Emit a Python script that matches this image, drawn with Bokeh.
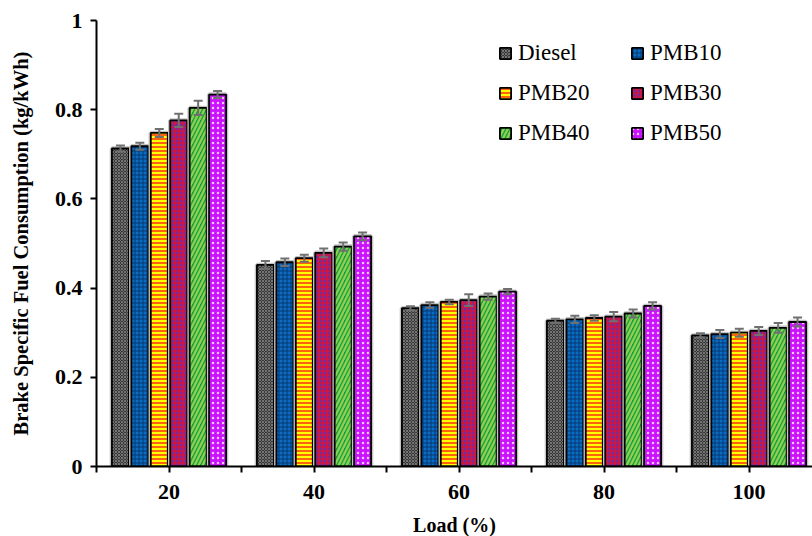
from bokeh.plotting import figure
from bokeh.models import (ColumnDataSource, Range1d, FixedTicker, CustomJSTickFormatter,
                          Whisker, TeeHead, Legend, LegendItem)
from bokeh.embed import file_html
from bokeh.resources import INLINE

# ---------------- data ----------------
loads = ["20", "40", "60", "80", "100"]
series_names = ["Diesel", "PMB10", "PMB20", "PMB30", "PMB40", "PMB50"]

diesel = [0.713, 0.452, 0.355, 0.327, 0.294]
pmb10 = [0.718, 0.458, 0.362, 0.330, 0.297]
pmb20 = [0.748, 0.467, 0.369, 0.333, 0.300]
pmb30 = [0.776, 0.479, 0.373, 0.336, 0.304]
pmb40 = [0.804, 0.493, 0.381, 0.343, 0.311]
pmb50 = [0.834, 0.516, 0.392, 0.360, 0.324]

diesel_err = [0.007, 0.0085, 0.0045, 0.0045, 0.0045]
pmb10_err = [0.008, 0.0085, 0.006, 0.008, 0.009]
pmb20_err = [0.009, 0.008, 0.005, 0.006, 0.009]
pmb30_err = [0.015, 0.010, 0.013, 0.0105, 0.009]
pmb40_err = [0.016, 0.009, 0.007, 0.009, 0.011]
pmb50_err = [0.008, 0.0085, 0.006, 0.008, 0.010]

values = [diesel, pmb10, pmb20, pmb30, pmb40, pmb50]
errors = [diesel_err, pmb10_err, pmb20_err, pmb30_err, pmb40_err, pmb50_err]

# ---------------- styles ----------------
styles = [
    dict(fill_color="#363636", hatch_pattern="diagonal_cross", hatch_color="#747474", hatch_scale=3, hatch_weight=1),
    dict(fill_color="#0a6cc4", hatch_pattern="cross", hatch_color="#06386e", hatch_scale=4, hatch_weight=1),
    dict(fill_color="#ffff00", hatch_pattern="horizontal_line", hatch_color="#ff3010", hatch_scale=4, hatch_weight=1.5),
    dict(fill_color="#7a2a96", hatch_pattern="cross", hatch_color="#e8102a", hatch_scale=4, hatch_weight=1.2),
    dict(fill_color="#14a040", hatch_pattern="right_diagonal_line", hatch_color="#8fd050", hatch_scale=8, hatch_weight=2.3),
    dict(fill_color="#cc11ff", hatch_pattern="dot", hatch_color="#f4c8ff", hatch_scale=5, hatch_weight=1),
]

FONT = "Liberation Serif"
bar_w = 0.117
pitch = 0.134

p = figure(frame_width=716, frame_height=446, width=812, height=536,
           output_backend="svg", toolbar_location=None,
           x_range=Range1d(0.5, 0.5 + 716 / 145), y_range=Range1d(0, 1),
           min_border_left=96, min_border_right=0, min_border_top=20, min_border_bottom=70)
p.outline_line_color = None
p.xgrid.grid_line_color = None
p.ygrid.grid_line_color = None
p.background_fill_color = "white"
p.border_fill_color = "white"

renderers = {}
for i, (name, vals, errs, st) in enumerate(zip(series_names, values, errors, styles)):
    xs = [g + 1 + (i - 2.5) * pitch for g in range(len(loads))]
    src = ColumnDataSource(dict(x=xs, top=vals,
                                upper=[v + e for v, e in zip(vals, errs)],
                                lower=[v - e for v, e in zip(vals, errs)]))
    # soft gray halo
    p.vbar(x="x", top="top", bottom=0, width=bar_w, source=src,
           fill_color=None, line_color="#c4c4c4", line_width=4.5)
    r = p.vbar(x="x", top="top", bottom=0, width=bar_w, source=src,
               line_color="black", line_width=1.8, **st)
    renderers[name] = r
    w = Whisker(source=src, base="x", upper="upper", lower="lower",
                line_color="#707070", line_width=2, level="annotation",
                upper_head=TeeHead(size=9, line_color="#707070", line_width=2),
                lower_head=TeeHead(size=9, line_color="#707070", line_width=2))
    p.add_layout(w)

# legend laid out column by column -> row-major reading order in the picture
legend_order = ["Diesel", "PMB20", "PMB40", "PMB10", "PMB30", "PMB50"]
items = [LegendItem(label=n, renderers=[renderers[n]]) for n in legend_order]
legend = Legend(items=items, ncols=2, location=(402, 320),
                label_text_font=FONT, label_text_font_size="23px", label_text_color="black",
                glyph_width=14, glyph_height=14, label_height=26, label_standoff=6,
                spacing=14, label_width=98, padding=0, margin=0,
                border_line_color=None, background_fill_alpha=0)
p.add_layout(legend, "center")

# axes
tick_pos = [0.5 + 0.5 * k for k in range(11)]
p.xaxis.ticker = FixedTicker(ticks=tick_pos)
p.xaxis.formatter = CustomJSTickFormatter(args=dict(labels=loads), code="""
    const k = Math.round(tick * 2);
    if (k % 2 === 0) { const i = k / 2 - 1; return (i >= 0 && i < labels.length) ? labels[i] : ""; }
    return "";
""")
p.yaxis.ticker = FixedTicker(ticks=[0, 0.2, 0.4, 0.6, 0.8, 1.0])
p.yaxis.formatter = CustomJSTickFormatter(code="""
    if (Math.abs(tick) < 1e-9) return "0";
    if (Math.abs(tick - 1) < 1e-9) return "1";
    return tick.toFixed(1);
""")

for ax in (p.xaxis[0], p.yaxis[0]):
    ax.axis_line_color = "black"
    ax.axis_line_width = 2
    ax.major_tick_line_color = "black"
    ax.major_tick_line_width = 2
    ax.major_tick_out = 6
    ax.major_tick_in = 0
    ax.minor_tick_line_color = None
    ax.major_label_text_font = FONT
    ax.major_label_text_font_style = "bold"
    ax.major_label_text_font_size = "22px"
    ax.major_label_text_color = "black"
    ax.axis_label_text_font = FONT
    ax.axis_label_text_font_style = "bold"
    ax.axis_label_text_color = "black"

p.xaxis.axis_label = "Load (%)"
p.xaxis.axis_label_text_font_size = "20px"
p.xaxis.major_label_standoff = 12
p.xaxis.axis_label_standoff = 12
p.yaxis.axis_label = "Brake Specific Fuel Consumption (kg/kWh)"
p.yaxis.axis_label_text_font_size = "20.5px"
p.yaxis.major_label_standoff = 8
p.yaxis.axis_label_standoff = 20

open("out.html", "w").write(file_html(p, INLINE))
